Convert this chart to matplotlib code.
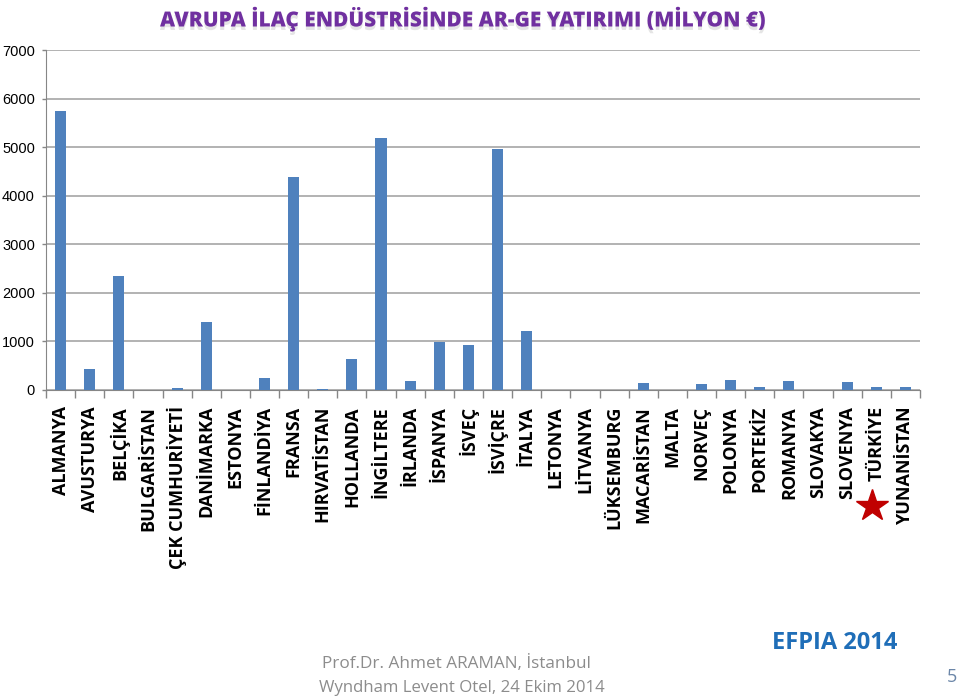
import numpy as np
import matplotlib.pyplot as plt
import matplotlib.patheffects as pe

# ulkeler ve AR-GE yatirimi (milyon euro)
ulkeler = ["ALMANYA", "AVUSTURYA", "BELÇİKA", "BULGARİSTAN", "ÇEK CUMHURİYETİ",
           "DANİMARKA", "ESTONYA", "FİNLANDİYA", "FRANSA", "HIRVATİSTAN",
           "HOLLANDA", "İNGİLTERE", "İRLANDA", "İSPANYA", "İSVEÇ",
           "İSVİÇRE", "İTALYA", "LETONYA", "LİTVANYA", "LÜKSEMBURG",
           "MACARİSTAN", "MALTA", "NORVEÇ", "POLONYA", "PORTEKİZ",
           "ROMANYA", "SLOVAKYA", "SLOVENYA", "TÜRKİYE", "YUNANİSTAN"]
yatirim = [5750, 440, 2340, 0, 40,
           1400, 0, 250, 4380, 25,
           630, 5180, 190, 990, 930,
           4960, 1220, 0, 0, 0,
           150, 0, 130, 210, 70,
           190, 0, 160, 70, 70]
yticks = [0, 1000, 2000, 3000, 4000, 5000, 6000, 7000]

plt.rcParams['font.family'] = ['Open Sans', 'DejaVu Sans']

fig = plt.figure(figsize=(9.6, 6.99), dpi=100)
ax = fig.add_axes([46/960, 1-390/699, (920-46)/960, 340/699])

x = np.arange(len(ulkeler))
ax.bar(x, yatirim, width=0.38, color="#4F81BD", zorder=3)

ax.set_xlim(-0.5, len(ulkeler)-0.5)
ax.set_ylim(0, 7000)
ax.set_yticks(yticks)
ax.set_yticklabels([str(v) for v in yticks], fontsize=10.5, family=['Liberation Sans'])
ax.yaxis.grid(True, color="#A6A6A6", linewidth=1.2, zorder=0)

# kategori arasi tikler
ax.set_xticks(np.arange(-0.5, len(ulkeler), 1), minor=False)
ax.set_xticklabels([])
ax.tick_params(axis='x', length=6, color="#868686", width=1)
ax.tick_params(axis='y', length=3, color="#868686", width=1, pad=5)
for s in ["top", "right"]:
    ax.spines[s].set_visible(False)
ax.spines["left"].set_color("#868686")
ax.spines["bottom"].set_color("#868686")

for i, ad in enumerate(ulkeler):
    ax.text(i, -330, ad, rotation=90, ha='center', va='top', fontsize=13,
            fontweight='bold', color='black')

# yildiz
ax.plot([27.85], [-2380], marker='*', markersize=24, color="#C00000", clip_on=False)

fig.text(463/960, 1-19/699, "AVRUPA İLAÇ ENDÜSTRİSİNDE AR-GE YATIRIMI (MİLYON €)",
         ha='center', va='center', fontsize=15, fontweight=800, color="#7030A0",
         path_effects=[pe.SimplePatchShadow(offset=(0, -2.5), shadow_rgbFace='#cccccc', alpha=0.5),
                       pe.Normal()])

fig.text(456/960, 1-664/699, "Prof.Dr. Ahmet ARAMAN, İstanbul", ha='center', va='center',
         fontsize=12.3, color="#8C8C8C")
fig.text(462/960, 1-688/699, "Wyndham Levent Otel, 24 Ekim 2014", ha='center', va='center',
         fontsize=12.1, color="#8C8C8C")
fig.text(835/960, 1-643/699, "EFPIA 2014", ha='center', va='center',
         fontsize=17, fontweight='bold', color="#1F6EB8")
fig.text(952/960, 1-677/699, "5", ha='center', va='center', fontsize=13, color="#6B86A8")

fig.savefig("out.png", dpi=100)
